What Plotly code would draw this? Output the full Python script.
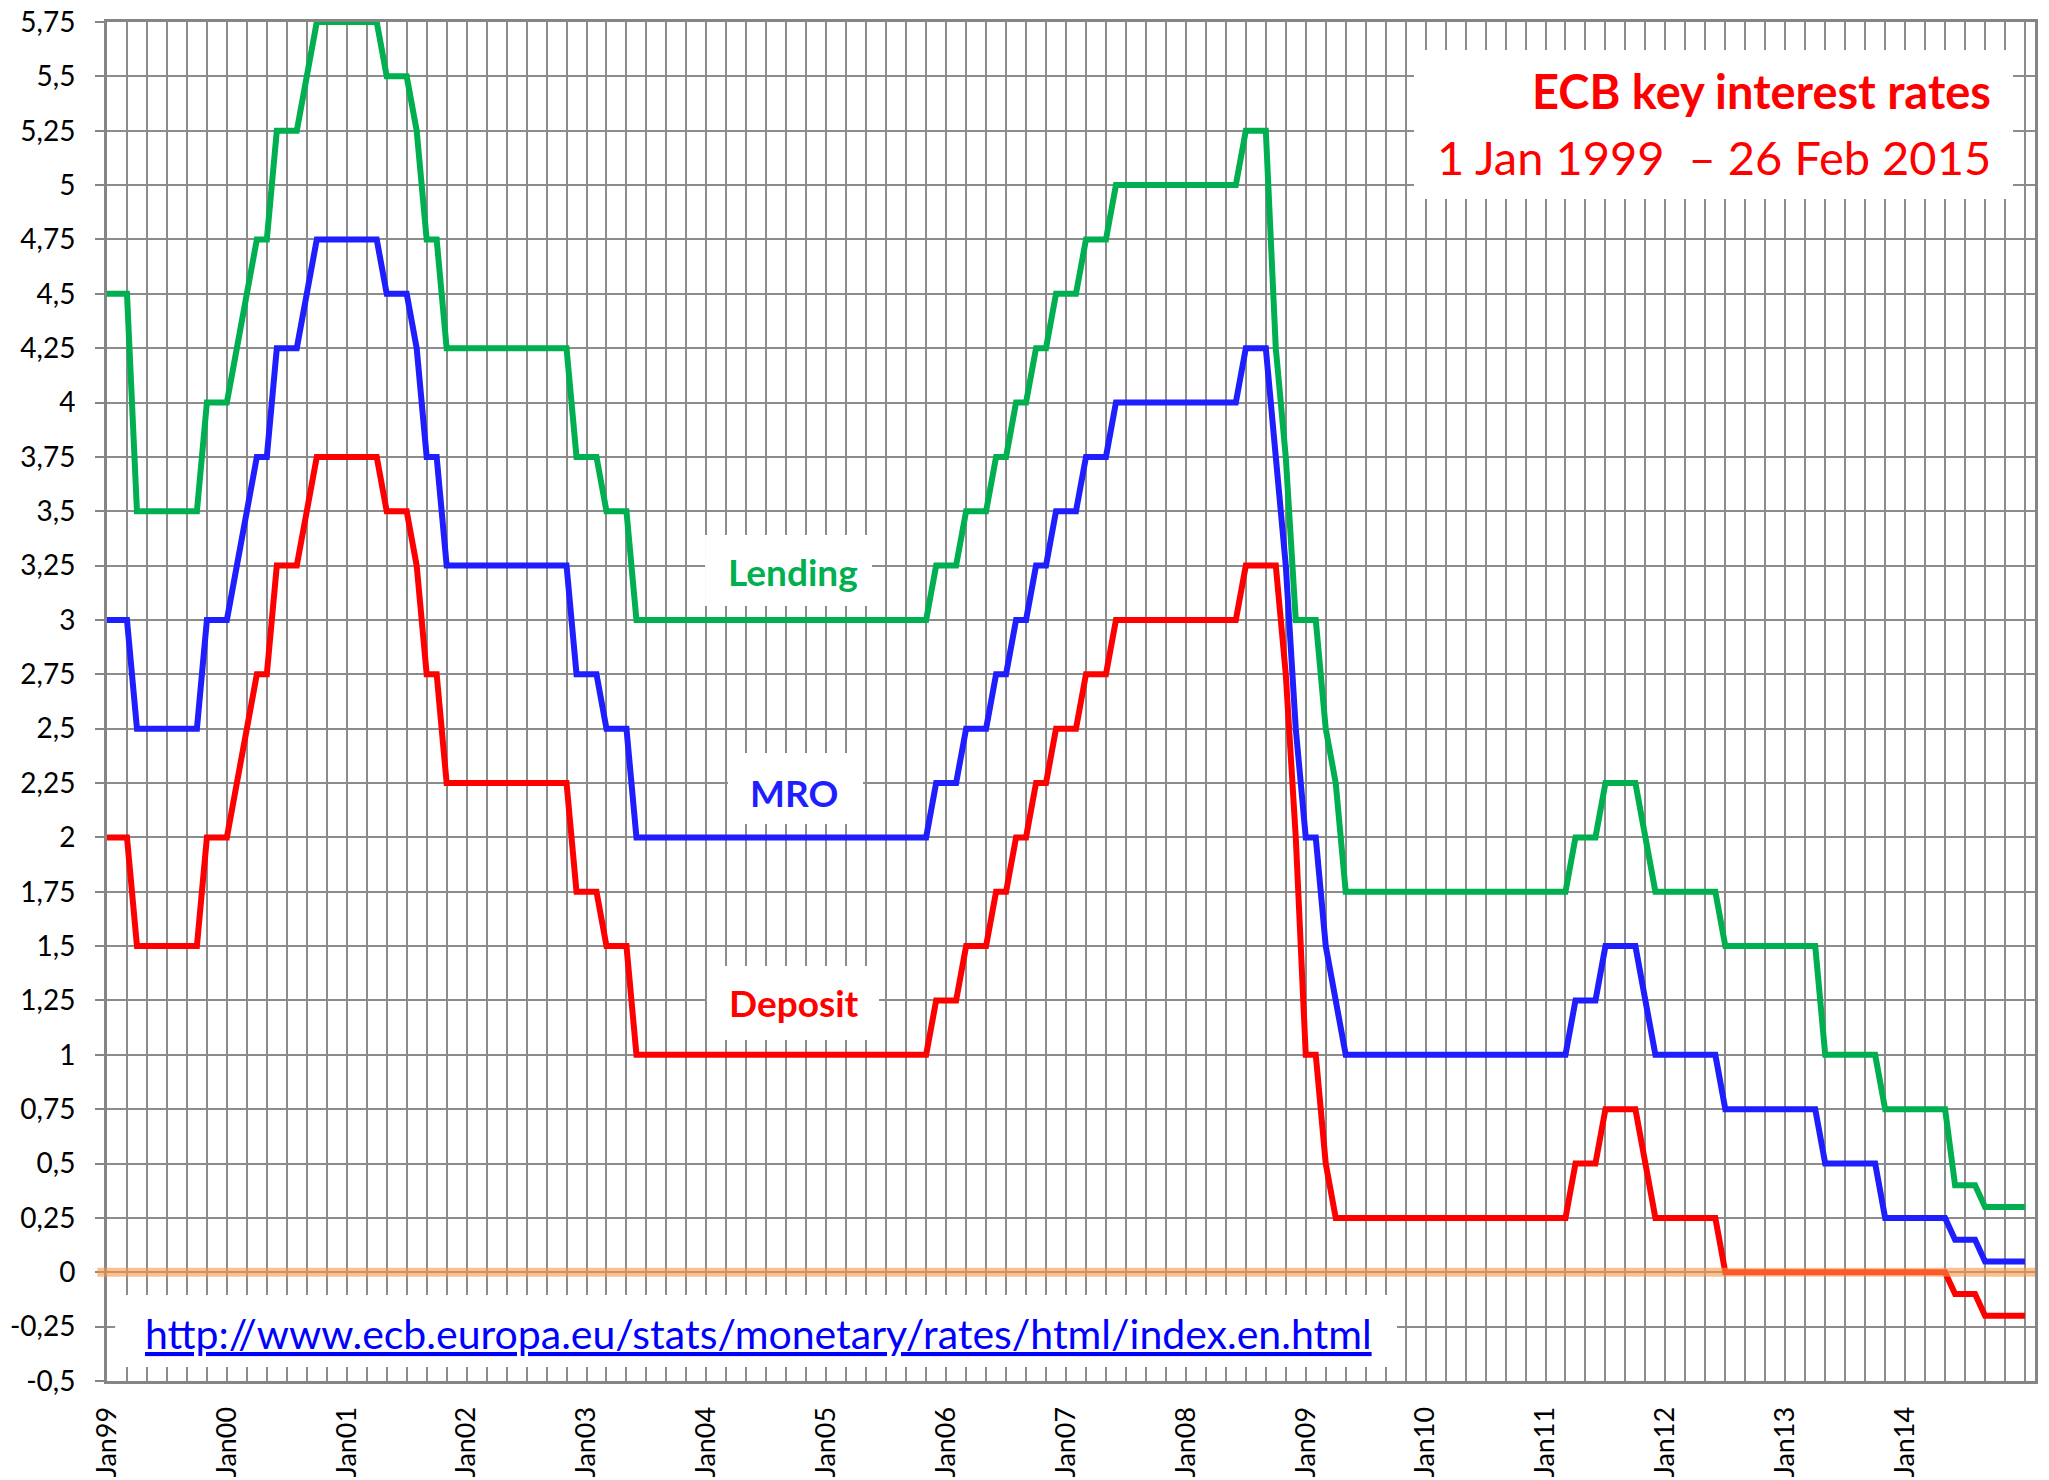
import plotly.graph_objects as go

# ECB key interest rates (%), month-end values, Jan 1999 ... Jan 2015 (one value per month)
LENDING = [
    4.5, 4.5, 4.5, 3.5, 3.5, 3.5, 3.5, 3.5, 3.5, 3.5, 4.0, 4.0,            # 1999
    4.0, 4.25, 4.5, 4.75, 4.75, 5.25, 5.25, 5.25, 5.5, 5.75, 5.75, 5.75,    # 2000
    5.75, 5.75, 5.75, 5.75, 5.5, 5.5, 5.5, 5.25, 4.75, 4.75, 4.25, 4.25,    # 2001
    4.25, 4.25, 4.25, 4.25, 4.25, 4.25, 4.25, 4.25, 4.25, 4.25, 4.25, 3.75, # 2002
    3.75, 3.75, 3.5, 3.5, 3.5, 3.0, 3.0, 3.0, 3.0, 3.0, 3.0, 3.0,           # 2003
    3.0, 3.0, 3.0, 3.0, 3.0, 3.0, 3.0, 3.0, 3.0, 3.0, 3.0, 3.0,             # 2004
    3.0, 3.0, 3.0, 3.0, 3.0, 3.0, 3.0, 3.0, 3.0, 3.0, 3.0, 3.25,            # 2005
    3.25, 3.25, 3.5, 3.5, 3.5, 3.75, 3.75, 4.0, 4.0, 4.25, 4.25, 4.5,       # 2006
    4.5, 4.5, 4.75, 4.75, 4.75, 5.0, 5.0, 5.0, 5.0, 5.0, 5.0, 5.0,          # 2007
    5.0, 5.0, 5.0, 5.0, 5.0, 5.0, 5.25, 5.25, 5.25, 4.25, 3.75, 3.0,        # 2008
    3.0, 3.0, 2.5, 2.25, 1.75, 1.75, 1.75, 1.75, 1.75, 1.75, 1.75, 1.75,    # 2009
    1.75, 1.75, 1.75, 1.75, 1.75, 1.75, 1.75, 1.75, 1.75, 1.75, 1.75, 1.75, # 2010
    1.75, 1.75, 1.75, 2.0, 2.0, 2.0, 2.25, 2.25, 2.25, 2.25, 2.0, 1.75,     # 2011
    1.75, 1.75, 1.75, 1.75, 1.75, 1.75, 1.5, 1.5, 1.5, 1.5, 1.5, 1.5,       # 2012
    1.5, 1.5, 1.5, 1.5, 1.0, 1.0, 1.0, 1.0, 1.0, 1.0, 0.75, 0.75,           # 2013
    0.75, 0.75, 0.75, 0.75, 0.75, 0.4, 0.4, 0.4, 0.3, 0.3, 0.3, 0.3,        # 2014
    0.3,                                                                    # 2015
]

MRO = [
    3.0, 3.0, 3.0, 2.5, 2.5, 2.5, 2.5, 2.5, 2.5, 2.5, 3.0, 3.0,             # 1999
    3.0, 3.25, 3.5, 3.75, 3.75, 4.25, 4.25, 4.25, 4.5, 4.75, 4.75, 4.75,    # 2000
    4.75, 4.75, 4.75, 4.75, 4.5, 4.5, 4.5, 4.25, 3.75, 3.75, 3.25, 3.25,    # 2001
    3.25, 3.25, 3.25, 3.25, 3.25, 3.25, 3.25, 3.25, 3.25, 3.25, 3.25, 2.75, # 2002
    2.75, 2.75, 2.5, 2.5, 2.5, 2.0, 2.0, 2.0, 2.0, 2.0, 2.0, 2.0,           # 2003
    2.0, 2.0, 2.0, 2.0, 2.0, 2.0, 2.0, 2.0, 2.0, 2.0, 2.0, 2.0,             # 2004
    2.0, 2.0, 2.0, 2.0, 2.0, 2.0, 2.0, 2.0, 2.0, 2.0, 2.0, 2.25,            # 2005
    2.25, 2.25, 2.5, 2.5, 2.5, 2.75, 2.75, 3.0, 3.0, 3.25, 3.25, 3.5,       # 2006
    3.5, 3.5, 3.75, 3.75, 3.75, 4.0, 4.0, 4.0, 4.0, 4.0, 4.0, 4.0,          # 2007
    4.0, 4.0, 4.0, 4.0, 4.0, 4.0, 4.25, 4.25, 4.25, 3.75, 3.25, 2.5,        # 2008
    2.0, 2.0, 1.5, 1.25, 1.0, 1.0, 1.0, 1.0, 1.0, 1.0, 1.0, 1.0,            # 2009
    1.0, 1.0, 1.0, 1.0, 1.0, 1.0, 1.0, 1.0, 1.0, 1.0, 1.0, 1.0,             # 2010
    1.0, 1.0, 1.0, 1.25, 1.25, 1.25, 1.5, 1.5, 1.5, 1.5, 1.25, 1.0,         # 2011
    1.0, 1.0, 1.0, 1.0, 1.0, 1.0, 0.75, 0.75, 0.75, 0.75, 0.75, 0.75,       # 2012
    0.75, 0.75, 0.75, 0.75, 0.5, 0.5, 0.5, 0.5, 0.5, 0.5, 0.25, 0.25,       # 2013
    0.25, 0.25, 0.25, 0.25, 0.25, 0.15, 0.15, 0.15, 0.05, 0.05, 0.05, 0.05, # 2014
    0.05,                                                                   # 2015
]

DEPOSIT = [
    2.0, 2.0, 2.0, 1.5, 1.5, 1.5, 1.5, 1.5, 1.5, 1.5, 2.0, 2.0,             # 1999
    2.0, 2.25, 2.5, 2.75, 2.75, 3.25, 3.25, 3.25, 3.5, 3.75, 3.75, 3.75,    # 2000
    3.75, 3.75, 3.75, 3.75, 3.5, 3.5, 3.5, 3.25, 2.75, 2.75, 2.25, 2.25,    # 2001
    2.25, 2.25, 2.25, 2.25, 2.25, 2.25, 2.25, 2.25, 2.25, 2.25, 2.25, 1.75, # 2002
    1.75, 1.75, 1.5, 1.5, 1.5, 1.0, 1.0, 1.0, 1.0, 1.0, 1.0, 1.0,           # 2003
    1.0, 1.0, 1.0, 1.0, 1.0, 1.0, 1.0, 1.0, 1.0, 1.0, 1.0, 1.0,             # 2004
    1.0, 1.0, 1.0, 1.0, 1.0, 1.0, 1.0, 1.0, 1.0, 1.0, 1.0, 1.25,            # 2005
    1.25, 1.25, 1.5, 1.5, 1.5, 1.75, 1.75, 2.0, 2.0, 2.25, 2.25, 2.5,       # 2006
    2.5, 2.5, 2.75, 2.75, 2.75, 3.0, 3.0, 3.0, 3.0, 3.0, 3.0, 3.0,          # 2007
    3.0, 3.0, 3.0, 3.0, 3.0, 3.0, 3.25, 3.25, 3.25, 3.25, 2.75, 2.0,        # 2008
    1.0, 1.0, 0.5, 0.25, 0.25, 0.25, 0.25, 0.25, 0.25, 0.25, 0.25, 0.25,    # 2009
    0.25, 0.25, 0.25, 0.25, 0.25, 0.25, 0.25, 0.25, 0.25, 0.25, 0.25, 0.25, # 2010
    0.25, 0.25, 0.25, 0.5, 0.5, 0.5, 0.75, 0.75, 0.75, 0.75, 0.5, 0.25,     # 2011
    0.25, 0.25, 0.25, 0.25, 0.25, 0.25, 0.0, 0.0, 0.0, 0.0, 0.0, 0.0,       # 2012
    0.0, 0.0, 0.0, 0.0, 0.0, 0.0, 0.0, 0.0, 0.0, 0.0, 0.0, 0.0,             # 2013
    0.0, 0.0, 0.0, 0.0, 0.0, -0.1, -0.1, -0.1, -0.2, -0.2, -0.2, -0.2,      # 2014
    -0.2,                                                                   # 2015
]

SERIES_NAMES = ["Lending", "MRO", "Deposit"]
SERIES_COLORS = ["#00B050", "#1E1EFF", "#FF0000"]

X_TICK_LABELS = ["Jan99", "Jan00", "Jan01", "Jan02", "Jan03", "Jan04", "Jan05", "Jan06",
                 "Jan07", "Jan08", "Jan09", "Jan10", "Jan11", "Jan12", "Jan13", "Jan14"]
X_TICK_MONTHS = [0, 12, 24, 36, 48, 60, 72, 84, 96, 108, 120, 132, 144, 156, 168, 180]

Y_TICK_VALUES = [-0.5, -0.25, 0, 0.25, 0.5, 0.75, 1, 1.25, 1.5, 1.75, 2, 2.25, 2.5, 2.75,
                 3, 3.25, 3.5, 3.75, 4, 4.25, 4.5, 4.75, 5, 5.25, 5.5, 5.75]
Y_TICK_LABELS = ["-0,5", "-0,25", "0", "0,25", "0,5", "0,75", "1", "1,25", "1,5", "1,75",
                 "2", "2,25", "2,5", "2,75", "3", "3,25", "3,5", "3,75", "4", "4,25",
                 "4,5", "4,75", "5", "5,25", "5,5", "5,75"]

TITLE = "ECB key interest rates"
SUBTITLE = "1 Jan 1999\u00a0 \u2013 26 Feb 2015"
SOURCE_URL = "http://www.ecb.europa.eu/stats/monetary/rates/html/index.en.html"

FONT = "Lato"
GRID = "#8C8C8C"

months = list(range(len(MRO)))

fig = go.Figure()
for name, values, color in zip(SERIES_NAMES, [LENDING, MRO, DEPOSIT], SERIES_COLORS):
    fig.add_trace(go.Scatter(x=months, y=values, mode="lines", name=name,
                             line=dict(color=color, width=6), showlegend=False,
                             hoverinfo="skip"))

# white label boxes (paper coords): x0, x1, y0, y1
BOXES = [
    (0.6779, 0.9886, 0.8698, 0.9794),   # title
    (0.3102, 0.3968, 0.5703, 0.6225),   # Lending
    (0.3221, 0.3921, 0.4099, 0.4621),   # MRO
    (0.3112, 0.4004, 0.2509, 0.3054),   # Deposit
    (0.0042, 0.6691, 0.0103, 0.0633),   # URL
]
shapes = []
for x0, x1, y0, y1 in BOXES:
    shapes.append(dict(type="rect", xref="paper", yref="paper", x0=x0, x1=x1, y0=y0, y1=y1,
                       fillcolor="white", line=dict(width=0), layer="above"))
# orange zero line drawn on top (semi-transparent)
shapes.append(dict(type="line", xref="paper", yref="y", x0=-0.005, x1=1, y0=0, y1=0,
                   line=dict(color="rgba(247,150,70,0.6)", width=9), layer="above"))

annotations = [
    dict(text="<b>" + TITLE + "</b>", x=0.9782, y=0.9489, xanchor="right", yanchor="middle",
         font=dict(family=FONT, size=47, color="#FF0000")),
    dict(text=SUBTITLE, x=0.9782, y=0.9007, xanchor="right", yanchor="middle",
         font=dict(family=FONT, size=47, color="#FF0000")),
    dict(text="<b>Lending</b>", x=0.3558, y=0.5953, xanchor="center", yanchor="middle",
         font=dict(family=FONT, size=37, color=SERIES_COLORS[0])),
    dict(text="<b>MRO</b>", x=0.3563, y=0.4334, xanchor="center", yanchor="middle",
         font=dict(family=FONT, size=37, color=SERIES_COLORS[1])),
    dict(text="<b>Deposit</b>", x=0.3563, y=0.2782, xanchor="center", yanchor="middle",
         font=dict(family=FONT, size=37, color=SERIES_COLORS[2])),
    dict(text="<u>" + SOURCE_URL + "</u>", x=0.3377, y=0.0353, xanchor="center", yanchor="middle",
         font=dict(family=FONT, size=41, color="#0000FF")),
]
for a in annotations:
    a.update(xref="paper", yref="paper", showarrow=False)

fig.update_layout(
    width=2049, height=1480, autosize=False,
    margin=dict(l=107, r=14, t=22, b=99, pad=0, autoexpand=False),
    paper_bgcolor="white", plot_bgcolor="white",
    shapes=shapes, annotations=annotations,
    font=dict(family=FONT, color="black"),
)

fig.update_xaxes(
    range=[0, len(MRO)], tickmode="array", tickvals=X_TICK_MONTHS, ticktext=X_TICK_LABELS,
    tickangle=-90, tickfont=dict(family=FONT, size=27, color="black"),
    ticks="", ticklabelstandoff=12, automargin=False,
    showgrid=True, gridcolor=GRID, gridwidth=2,
    minor=dict(tick0=0, dtick=2, showgrid=True, gridcolor=GRID, gridwidth=2, ticks=""),
    showline=True, linecolor="#858585", linewidth=3, mirror=True, zeroline=False,
)
fig.update_yaxes(
    range=[-0.5, 5.75], tickmode="array", tickvals=Y_TICK_VALUES, ticktext=Y_TICK_LABELS,
    tickfont=dict(family=FONT, size=28, color="black"),
    ticks="outside", ticklen=9, tickwidth=2, tickcolor="#858585", ticklabelstandoff=14,
    automargin=False,
    showgrid=True, gridcolor=GRID, gridwidth=2,
    showline=True, linecolor="#858585", linewidth=3, mirror=True, zeroline=False,
)

fig.write_html("out.html", config={"displayModeBar": False},
               post_script="document.body.style.margin='0';")
